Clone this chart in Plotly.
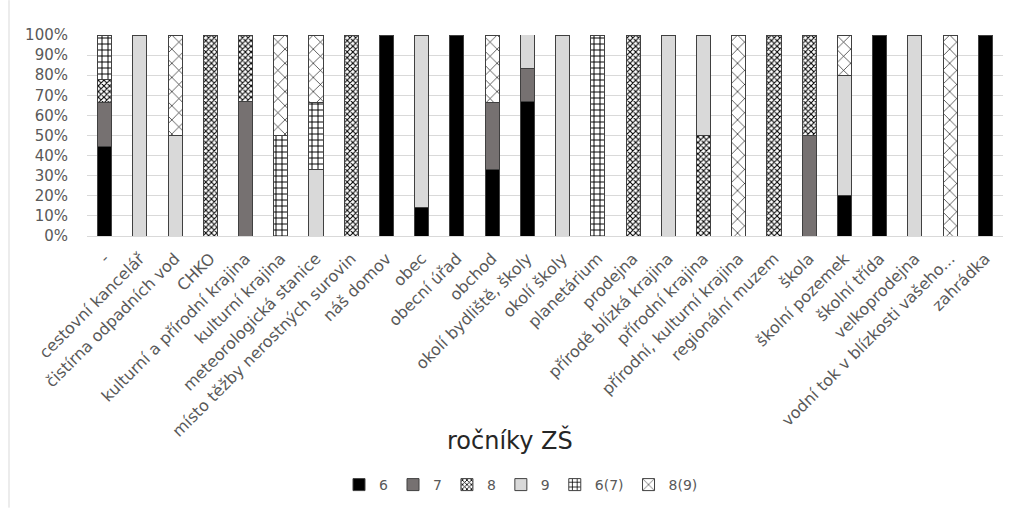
import plotly.graph_objects as go

# Places (categories) on the x axis
places = [
    "-", "cestovní kancelář", "čistírna odpadních vod", "CHKO",
    "kulturní a přírodní krajina", "kulturní krajina", "meteorologická stanice",
    "místo těžby nerostných surovin", "náš domov", "obec", "obecní úřad",
    "obchod", "okolí bydliště, školy", "okolí školy", "planetárium",
    "prodejna", "přírodě blízká krajina", "přírodní krajina",
    "přírodní, kulturní krajina", "regionální muzem", "škola",
    "školní pozemek", "školní třída", "velkoprodejna",
    "vodní tok v blízkosti vašeho...", "zahrádka",
]

# Share of each grade group per place (percent)
g6 = [44.4, 0, 0, 0, 0, 0, 0, 0, 100, 14.3, 100, 33.3, 66.7, 0, 0, 0, 0, 0, 0, 0, 0, 20, 100, 0, 0, 100]
g7 = [22.2, 0, 0, 0, 66.7, 0, 0, 0, 0, 0, 0, 33.3, 16.7, 0, 0, 0, 0, 0, 0, 0, 50, 0, 0, 0, 0, 0]
g8 = [11.1, 0, 0, 100, 33.3, 0, 0, 100, 0, 0, 0, 0, 0, 0, 0, 100, 0, 50, 0, 100, 50, 0, 0, 0, 0, 0]
g9 = [0, 100, 50, 0, 0, 0, 33.3, 0, 0, 85.7, 0, 0, 16.7, 100, 0, 0, 100, 50, 0, 0, 0, 60, 0, 100, 0, 0]
g6_7 = [22.2, 0, 0, 0, 0, 50, 33.3, 0, 0, 0, 0, 0, 0, 0, 100, 0, 0, 0, 0, 0, 0, 0, 0, 0, 0, 0]
g8_9 = [0, 0, 50, 0, 0, 50, 33.3, 0, 0, 0, 0, 33.3, 0, 0, 0, 0, 0, 0, 100, 0, 0, 20, 0, 0, 100, 0]

y_ticks = [0, 10, 20, 30, 40, 50, 60, 70, 80, 90, 100]

series = [
    ("6", g6, dict(color="#000000")),
    ("7", g7, dict(color="#767171")),
    ("8", g8, dict(color="#ffffff",
                   pattern=dict(shape="x", size=4, solidity=0.45,
                                fgcolor="#000000", bgcolor="#ffffff",
                                fillmode="replace"))),
    ("9", g9, dict(color="#d9d9d9")),
    ("6(7)", g6_7, dict(color="#ffffff",
                        pattern=dict(shape="+", size=6, solidity=0.3,
                                     fgcolor="#000000", bgcolor="#ffffff",
                                     fillmode="replace"))),
    ("8(9)", g8_9, dict(color="#ffffff",
                        pattern=dict(shape="x", size=10, solidity=0.12,
                                     fgcolor="#000000", bgcolor="#ffffff",
                                     fillmode="replace"))),
]

fig = go.Figure()
for name, vals, mk in series:
    mk = dict(mk)
    mk["line"] = dict(color="#404040", width=1)
    fig.add_trace(go.Bar(
        x=places, y=[v / 100 for v in vals], name=name,
        marker=mk,
    ))

W, H = 1017, 510
top, bottom, left, right = 35, 273, 87, 14
plot_h = H - top - bottom
plot_w = W - left - right
font_family = "DejaVu Sans, sans-serif"

fig.update_layout(
    width=W, height=H,
    barmode="stack", bargap=0.6,
    margin=dict(l=left, r=right, t=top, b=bottom),
    paper_bgcolor="#ffffff", plot_bgcolor="#ffffff",
    font=dict(family=font_family, color="#595959", size=13),
    showlegend=True,
    legend=dict(
        orientation="h", x=(521 - left) / plot_w, xanchor="center",
        y=(top + plot_h - 485) / plot_h, yanchor="middle",
        font=dict(size=14, color="#595959"),
        itemwidth=30, traceorder="normal",
    ),
    annotations=[dict(
        text="ročníky ZŠ", x=(510 - left) / plot_w, xref="paper",
        y=(top + plot_h - 442) / plot_h, yref="paper",
        xanchor="center", yanchor="middle", showarrow=False,
        font=dict(size=24, color="#262626", family=font_family),
    )],
    shapes=[dict(
        type="line", xref="paper", yref="paper",
        x0=(9 - left) / plot_w, x1=(9 - left) / plot_w,
        y0=(top + plot_h - 0) / plot_h, y1=(top + plot_h - 510) / plot_h,
        line=dict(color="#d9d9d9", width=1),
    )],
)

fig.update_xaxes(
    tickangle=-45, showgrid=False, showline=True,
    linecolor="#d9d9d9", linewidth=1, ticks="",
    ticklabelstandoff=6,
    tickfont=dict(size=16, color="#595959"),
)
fig.update_yaxes(
    range=[0, 1], tickvals=[t / 100 for t in y_ticks],
    ticktext=[f"{t}%" for t in y_ticks],
    showgrid=True, gridcolor="#d9d9d9", gridwidth=1,
    zeroline=False, ticks="", ticklabelstandoff=18,
    tickfont=dict(size=15, color="#595959"),
)

fig.write_html("out.html")
